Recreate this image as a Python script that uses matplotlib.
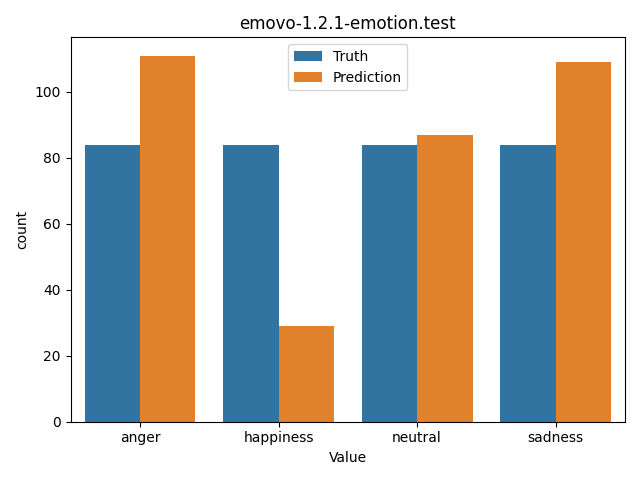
import matplotlib
matplotlib.use("Agg")
import matplotlib.pyplot as plt
import seaborn as sns
import pandas as pd

categories = ["anger", "happiness", "neutral", "sadness"]
truth = [84, 84, 84, 84]
prediction = [111, 29, 87, 109]

df = pd.DataFrame({
    "Value": categories * 2,
    "count": truth + prediction,
    "kind": ["Truth"] * len(categories) + ["Prediction"] * len(categories),
})

fig, ax = plt.subplots(figsize=(6.4, 4.8), dpi=100)
sns.barplot(data=df, x="Value", y="count", hue="kind", ax=ax)
ax.set_title("emovo-1.2.1-emotion.test")
ax.legend(loc="upper center")
plt.tight_layout()
plt.savefig("out.png")
